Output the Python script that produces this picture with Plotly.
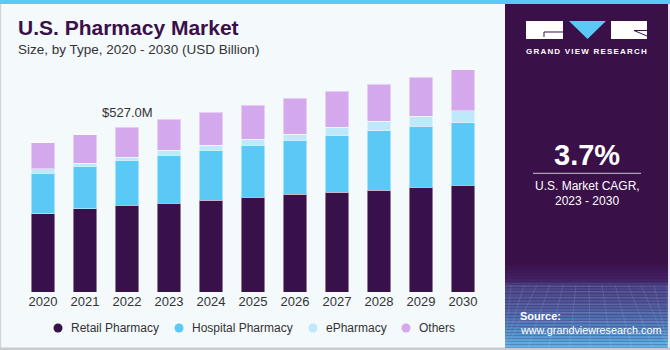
import plotly.graph_objects as go

years = [2020, 2021, 2022, 2023, 2024, 2025, 2026, 2027, 2028, 2029, 2030]
year_labels = [str(y) for y in years]
retail = [250.6, 266.6, 278.4, 284.8, 294.4, 303.0, 312.6, 320.0, 326.4, 336.0, 342.4]
hospital = [129.3, 136.6, 144.0, 153.6, 160.0, 167.4, 173.8, 182.4, 189.8, 195.2, 199.4]
epharmacy = [13.8, 8.6, 8.6, 16.0, 15.0, 18.2, 19.2, 24.6, 31.0, 32.0, 38.4]
others = [84.2, 91.5, 96.0, 98.2, 105.6, 109.8, 114.2, 115.2, 117.4, 124.8, 131.2]
series_names = ["Retail Pharmacy", "Hospital Pharmacy", "ePharmacy", "Others"]
series_colors = ["#38104A", "#5BC9F5", "#BDE9FA", "#D4A8EC"]
highlight_label = "$527.0M"
highlight_year = 2022

W, H = 670, 350
L, R, T, B = 22, 186, 60, 58
PW, PH = W - L - R, H - T - B


def xp(px):
    return (px - L) / PW


def yp(py):
    return (H - B - py) / PH


FONT = "Liberation Sans, Arial, sans-serif"
BG = "#F4F9FC"
PURPLE = "#3A1049"

fig = go.Figure()
for name, vals, col in zip(series_names, [retail, hospital, epharmacy, others], series_colors):
    fig.add_trace(go.Bar(
        x=years, y=vals, name=name, width=0.57,
        marker=dict(color=col, line=dict(color="rgba(255,255,255,0.45)", width=1)),
        showlegend=False, hoverinfo="x+y+name",
    ))

totals = [a + b + c + d for a, b, c, d in zip(retail, hospital, epharmacy, others)]
hi = years.index(highlight_year)

shapes = []
annotations = []

# label above highlighted bar
annotations.append(dict(x=highlight_year, y=totals[hi], xref="x", yref="y", text=highlight_label,
                        showarrow=False, yshift=15, font=dict(family=FONT, size=13, color="#333333")))

# outer borders
shapes.append(dict(type="rect", xref="paper", yref="paper", x0=xp(0), x1=xp(1.2), y0=yp(350), y1=yp(0),
                   fillcolor="#D0D4D8", line=dict(width=0), layer="below"))
shapes.append(dict(type="rect", xref="paper", yref="paper", x0=xp(0), x1=xp(670), y0=yp(350), y1=yp(347.5),
                   fillcolor="#C8CCD0", line=dict(width=0), layer="below"))
# top strip
shapes.append(dict(type="rect", xref="paper", yref="paper", x0=xp(0), x1=xp(670), y0=yp(4), y1=yp(0),
                   fillcolor="#5BC9F5", line=dict(width=0), layer="above"))

# right panel
PX0, PX1 = 505, 668
shapes.append(dict(type="rect", xref="paper", yref="paper", x0=xp(PX0), x1=xp(PX1), y0=yp(347.5), y1=yp(4),
                   fillcolor=PURPLE, line=dict(width=0), layer="above"))
shapes.append(dict(type="rect", xref="paper", yref="paper", x0=xp(PX1), x1=xp(670), y0=yp(347.5), y1=yp(4),
                   fillcolor="#E6E8EC", line=dict(width=0), layer="above"))


def lerp(c1, c2, t):
    return tuple(int(round(a + (b - a) * t)) for a, b in zip(c1, c2))


stops = [(262, (58, 16, 73)), (282, (68, 38, 106)), (284, (74, 66, 132)), (305, (78, 88, 155)),
         (325, (80, 126, 190)), (347.5, (92, 180, 230))]
y = 262.0
step = 1.5
while y < 347.5:
    y1 = min(y + step, 347.5)
    ym = (y + y1) / 2
    for (ya, ca), (yb, cb) in zip(stops[:-1], stops[1:]):
        if ya <= ym <= yb:
            c = lerp(ca, cb, (ym - ya) / (yb - ya))
            break
    else:
        c = stops[-1][1]
    shapes.append(dict(type="rect", xref="paper", yref="paper", x0=xp(PX0), x1=xp(PX1), y0=yp(y1), y1=yp(y),
                       fillcolor="rgb(%d,%d,%d)" % c, line=dict(width=0), layer="above"))
    y = y1

# faint mesh in the panel footer
mesh = "rgba(255,255,255,0.10)"
for hy in [286, 291, 297, 304, 312, 321, 331, 342]:
    shapes.append(dict(type="line", xref="paper", yref="paper", x0=xp(PX0), x1=xp(PX1), y0=yp(hy), y1=yp(hy + 1),
                       line=dict(color=mesh, width=1), layer="above"))
for i in range(13):
    xt = PX0 + 6 + i * 13
    xb = 587 + (xt - 587) * 1.6
    xb = max(PX0, min(PX1, xb))
    shapes.append(dict(type="line", xref="paper", yref="paper", x0=xp(xt), x1=xp(xb), y0=yp(285), y1=yp(347),
                       line=dict(color=mesh, width=1), layer="above"))

# logo
shapes.append(dict(type="rect", xref="paper", yref="paper", x0=xp(526), x1=xp(563), y0=yp(39), y1=yp(21),
                   fillcolor="white", line=dict(width=0), layer="above"))
shapes.append(dict(type="rect", xref="paper", yref="paper", x0=xp(611), x1=xp(647), y0=yp(39), y1=yp(21),
                   fillcolor="white", line=dict(width=0), layer="above"))
shapes.append(dict(type="path", xref="paper", yref="paper",
                   path="M %f,%f L %f,%f L %f,%f Z" % (xp(569), yp(21), xp(606), yp(21), xp(587.5), yp(39)),
                   fillcolor="#5BC9F5", line=dict(width=0), layer="above"))
shapes.append(dict(type="path", xref="paper", yref="paper",
                   path="M %f,%f L %f,%f L %f,%f" % (xp(563), yp(32), xp(544), yp(32), xp(544), yp(37)),
                   line=dict(color=PURPLE, width=1), layer="above"))
shapes.append(dict(type="line", xref="paper", yref="paper", x0=xp(634), x1=xp(647), y0=yp(30.5), y1=yp(36),
                   line=dict(color=PURPLE, width=1), layer="above"))
shapes.append(dict(type="line", xref="paper", yref="paper", x0=xp(634), x1=xp(647), y0=yp(30.5), y1=yp(30.5),
                   line=dict(color=PURPLE, width=1), layer="above"))
annotations.append(dict(x=xp(587), y=yp(51), xref="paper", yref="paper", xanchor="center", yanchor="middle",
                        text='<b><span style="letter-spacing:1.2px">GRAND VIEW RESEARCH</span></b>',
                        showarrow=False, font=dict(family=FONT, size=8, color="white")))

# CAGR block
annotations.append(dict(x=xp(587), y=yp(155), xref="paper", yref="paper", xanchor="center", yanchor="middle",
                        text="<b>3.7%</b>", showarrow=False, font=dict(family=FONT, size=29, color="white")))
shapes.append(dict(type="line", xref="paper", yref="paper", x0=xp(533), x1=xp(641), y0=yp(173.3), y1=yp(173.3),
                   line=dict(color="rgba(255,255,255,0.75)", width=1), layer="above"))
annotations.append(dict(x=xp(587), y=yp(186), xref="paper", yref="paper", xanchor="center", yanchor="middle",
                        text="U.S. Market CAGR,", showarrow=False, font=dict(family=FONT, size=12, color="white")))
annotations.append(dict(x=xp(587), y=yp(201), xref="paper", yref="paper", xanchor="center", yanchor="middle",
                        text="2023 - 2030", showarrow=False, font=dict(family=FONT, size=12, color="white")))

# source
annotations.append(dict(x=xp(518), y=yp(316), xref="paper", yref="paper", xanchor="left", yanchor="middle",
                        text="<b>Source:</b>", showarrow=False, font=dict(family=FONT, size=11, color="white")))
annotations.append(dict(x=xp(518), y=yp(330), xref="paper", yref="paper", xanchor="left", yanchor="middle",
                        text="www.grandviewresearch.com", showarrow=False,
                        font=dict(family=FONT, size=10.8, color="white")))

# title
annotations.append(dict(x=xp(16), y=yp(28), xref="paper", yref="paper", xanchor="left", yanchor="middle",
                        text="<b>U.S. Pharmacy Market</b>", showarrow=False,
                        font=dict(family=FONT, size=21, color=PURPLE)))
annotations.append(dict(x=xp(16), y=yp(49), xref="paper", yref="paper", xanchor="left", yanchor="middle",
                        text="Size, by Type, 2020 - 2030 (USD Billion)", showarrow=False,
                        font=dict(family=FONT, size=13.5, color="#333333")))

# legend (manual, round markers)
leg_marker_x = [58, 179, 313, 406]
for mx, name, col in zip(leg_marker_x, series_names, series_colors):
    shapes.append(dict(type="circle", xref="paper", yref="paper", x0=xp(mx - 4.5), x1=xp(mx + 4.5),
                       y0=yp(328 + 4.5), y1=yp(328 - 4.5), fillcolor=col, line=dict(width=0)))
    annotations.append(dict(x=xp(mx + 10.5), y=yp(328), xref="paper", yref="paper", xanchor="left",
                            yanchor="middle", text=name, showarrow=False,
                            font=dict(family=FONT, size=12, color="#333333")))

fig.update_layout(
    width=W, height=H, margin=dict(l=L, r=R, t=T, b=B),
    barmode="stack", paper_bgcolor=BG, plot_bgcolor=BG,
    showlegend=False, shapes=shapes, annotations=annotations,
    xaxis=dict(range=[2019.5, 2030.5], tickvals=years, ticktext=year_labels, showgrid=False, zeroline=False,
               showline=False, ticks="", tickfont=dict(family=FONT, size=13, color="#333333"), fixedrange=True),
    yaxis=dict(range=[0, 742.4], visible=False, showgrid=False, fixedrange=True),
    font=dict(family=FONT),
)

fig.write_html("out.html")
